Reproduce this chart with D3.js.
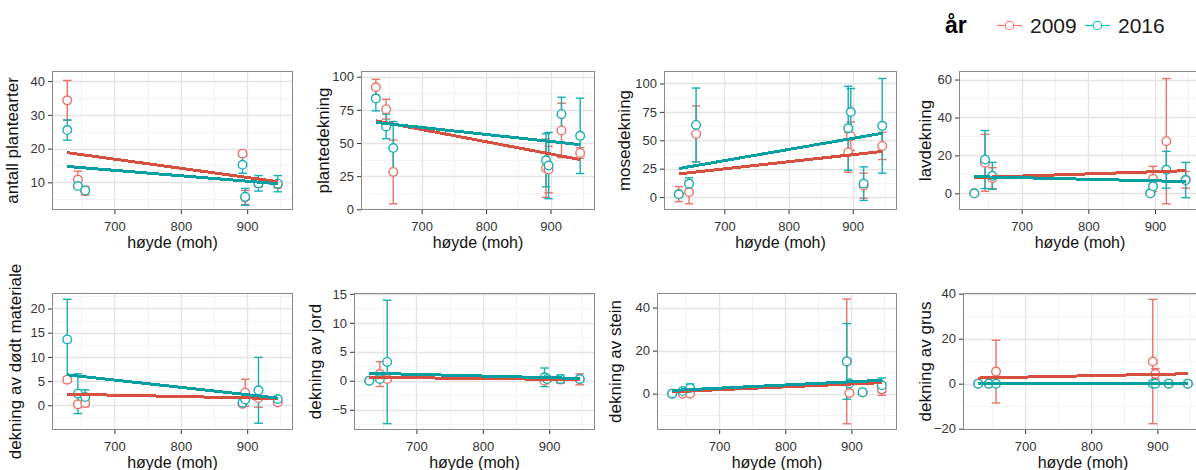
<!DOCTYPE html>
<html>
<head>
<meta charset="utf-8">
<script src="https://cdn.jsdelivr.net/npm/d3@7"></script>
<style>
  html, body { margin: 0; padding: 0; background: #ffffff; }
  svg { display: block; font-family: "Liberation Sans", Arial, sans-serif; }
</style>
</head>
<body>
<script>
// Høyde over havet (moh) for de sju lokalitetene
const hoyde = [629, 645, 656, 893, 897, 917, 946];

// Responsvariabler, én per panel
const yTitler = [
  "antall plantearter", "plantedekning", "mosedekning", "lavdekning",
  "dekning av dødt materiale", "dekning av jord", "dekning av stein", "dekning av grus"
];

// Gjennomsnitt per lokalitet, 2009
const snitt2009 = [
  [34.3, 10.8, 7.5, 18.5, 5.5, 9.7, 9.4],
  [92, 75.5, 28.2, 31, 30, 59.5, 42.5],
  [2.6, 4.4, 55.6, 39.3, 53.6, 10, 45],
  [0, 16.1, 8, 0, 7.6, 27.5, 7.1],
  [5.3, 0.2, 0.5, 0.3, 2.6, 1.5, 0.6],
  [0, 1.15, 0.3, 0, 0.3, 0.2, 0.25],
  [0, 0, 0, 15, 0.3, 0.5, 2],
  [0, 0, 5.35, 9.85, 4.4, 0, 0]
];
// Standardavvik per lokalitet, 2009
const sd2009 = [
  [5.9, 2.5, 1.3, 0.7, 2.1, 1, 1],
  [6, 7.5, 24, 22, 17.5, 20.5, 4],
  [6.6, 10.3, 24.7, 17.5, 12.5, 11, 12],
  [0, 15, 5.5, 0, 6.6, 33, 4.4],
  [0.6, 0.3, 0.8, 0.4, 2.8, 1.9, 0.3],
  [0, 2.15, 0.3, 0, 0.3, 0.2, 0.95],
  [0, 0.5, 0.5, 29, 0, 0.5, 2.8],
  [0, 0, 13.95, 27.65, 2.3, 0, 0]
];
// Gjennomsnitt per lokalitet, 2016
const snitt2016 = [
  [25.5, 8.9, 7.6, 15.2, 5.7, 9.7, 9.6],
  [83.5, 62.5, 46.2, 37, 33, 71.75, 55.4],
  [2.4, 11.8, 63.5, 60.6, 74.9, 11.8, 62.7],
  [0, 17.8, 9.2, 0, 3.7, 12.4, 7],
  [13.6, 2.4, 1.7, 0.55, 1.2, 3.1, 1.3],
  [0, 0.3, 3.25, 0.6, 0.3, 0.3, 0.3],
  [0, 1.2, 2.6, 15, 4.8, 0.7, 3.9],
  [0, 0, 0, 0, 0, 0, 0]
];
// Standardavvik per lokalitet, 2016
const sd2016 = [
  [3, 0.5, 0.5, 2.5, 2.5, 2.3, 2.4],
  [9.25, 9.25, 20, 20, 25, 12.75, 28.4],
  [1, 5.2, 32.5, 37, 20.7, 14.8, 41.7],
  [0, 15.3, 7.1, 0, 1, 9.7, 9.3],
  [8.3, 4.1, 1.5, 0.5, 0.5, 6.8, 0.3],
  [0, 0.3, 10.65, 1.6, 0.3, 0.7, 0.3],
  [0, 0.5, 1.9, 17.6, 0.5, 0.5, 3.4],
  [0, 0, 0, 0, 0, 0, 0]
];
// Lineær trend: tilpasset verdi ved laveste og høyeste lokalitet
const trend2009 = [[18.8, 10.2], [66.75, 37.5], [20.4, 40.2], [8.3, 11.9], [2.3, 1.4], [0.6, 0.2], [0.9, 5.1], [2.5, 4.4]];
const trend2016 = [[14.7, 9.6], [65.5, 48.75], [25.1, 56.2], [8.8, 6.2], [6.3, 1.5], [1.3, 0.4], [1.5, 6.2], [0, 0]];

// Akseinndeling
const xBrudd = [700, 800, 900];
const yBrudd = [
  [10, 20, 30, 40], [0, 25, 50, 75, 100], [0, 25, 50, 75, 100], [0, 20, 40, 60],
  [0, 5, 10, 15, 20], [-5, 0, 5, 10, 15], [0, 20, 40], [-20, 0, 20, 40]
];
const xOmrade = [606, 969];
const yOmrade = [
  [1.8, 43], [-0.5, 104.3], [-11.4, 111], [-8.8, 64.5],
  [-5.1, 23.2], [-8.5, 15.15], [-16.9, 46.8], [-20.6, 40.3]
];

const aar = ["2009", "2016"];

// Farger
const punktFarge = { "2009": "#E8736A", "2016": "#17AFB2" };
const linjeFarge = { "2009": "#D5503F", "2016": "#06A0A3" };
const legendeFarge = { "2009": "#F8766D", "2016": "#00BFC4" };

// Plassering av panelene (venstre, høyre, topp, bunn, x for y-tittel)
const paneler = [
  { l: 52, r: 293, t: 71, b: 210, ty: 12 },
  { l: 361, r: 595, t: 71, b: 210, ty: 323 },
  { l: 664, r: 897, t: 71, b: 210, ty: 624 },
  { l: 959, r: 1201, t: 71, b: 210, ty: 925 },
  { l: 52, r: 293, t: 293, b: 430, ty: 15 },
  { l: 354, r: 595, t: 293, b: 430, ty: 315 },
  { l: 657, r: 897, t: 293, b: 430, ty: 615 },
  { l: 963, r: 1203, t: 293, b: 430, ty: 925 }
];

const W = 1196, H = 470;
const svg = d3.select("body").append("svg").attr("width", W).attr("height", H);

// Mindre rutenett: midt mellom hovedbruddene, ett steg utenfor i hver ende
function mindreBrudd(brudd, omrade) {
  const steg = brudd[1] - brudd[0];
  const ut = [];
  for (let v = brudd[0] - steg / 2; v <= brudd[brudd.length - 1] + steg / 2 + 1e-9; v += steg) ut.push(v);
  return ut.filter(v => v >= Math.min(...omrade) && v <= Math.max(...omrade));
}

const xMin = d3.min(hoyde), xMax = d3.max(hoyde);
const capHalv = 6.5; // halv bredde på feilstolpene, i moh

paneler.forEach((p, i) => {
  const x = d3.scaleLinear().domain(xOmrade).range([p.l, p.r]);
  const y = d3.scaleLinear().domain(yOmrade[i]).range([p.b, p.t]);
  const g = svg.append("g");

  const clipId = "clip" + i;
  svg.append("clipPath").attr("id", clipId)
    .append("rect").attr("x", p.l).attr("y", p.t).attr("width", p.r - p.l).attr("height", p.b - p.t);
  const plot = g.append("g").attr("clip-path", `url(#${clipId})`);

  // bakgrunn
  plot.append("rect").attr("x", p.l).attr("y", p.t).attr("width", p.r - p.l).attr("height", p.b - p.t)
    .attr("fill", "#ffffff");

  // rutenett
  const xMinor = mindreBrudd(xBrudd, xOmrade);
  const yMinor = mindreBrudd(yBrudd[i], yOmrade[i]);
  plot.selectAll(".gxm").data(xMinor).join("line")
    .attr("x1", d => Math.round(x(d)) + 0.5).attr("x2", d => Math.round(x(d)) + 0.5)
    .attr("y1", p.t).attr("y2", p.b).attr("stroke", "#F3F3F3").attr("stroke-width", 1);
  plot.selectAll(".gym").data(yMinor).join("line")
    .attr("y1", d => Math.round(y(d)) + 0.5).attr("y2", d => Math.round(y(d)) + 0.5)
    .attr("x1", p.l).attr("x2", p.r).attr("stroke", "#F3F3F3").attr("stroke-width", 1);
  plot.selectAll(".gx").data(xBrudd).join("line")
    .attr("x1", d => Math.round(x(d)) + 0.5).attr("x2", d => Math.round(x(d)) + 0.5)
    .attr("y1", p.t).attr("y2", p.b).attr("stroke", "#E4E4E4").attr("stroke-width", 1.3);
  plot.selectAll(".gy").data(yBrudd[i]).join("line")
    .attr("y1", d => Math.round(y(d)) + 0.5).attr("y2", d => Math.round(y(d)) + 0.5)
    .attr("x1", p.l).attr("x2", p.r).attr("stroke", "#E4E4E4").attr("stroke-width", 1.3);

  const serier = {
    "2009": hoyde.map((h, k) => ({ h, m: snitt2009[i][k], s: sd2009[i][k] })),
    "2016": hoyde.map((h, k) => ({ h, m: snitt2016[i][k], s: sd2016[i][k] }))
  };

  // feilstolper
  aar.forEach(a => {
    const eb = plot.append("g").attr("stroke", punktFarge[a]).attr("stroke-width", 1.4).attr("fill", "none");
    serier[a].forEach(d => {
      eb.append("line").attr("x1", x(d.h)).attr("x2", x(d.h)).attr("y1", y(d.m - d.s)).attr("y2", y(d.m + d.s));
      eb.append("line").attr("x1", x(d.h - capHalv)).attr("x2", x(d.h + capHalv)).attr("y1", y(d.m + d.s)).attr("y2", y(d.m + d.s));
      eb.append("line").attr("x1", x(d.h - capHalv)).attr("x2", x(d.h + capHalv)).attr("y1", y(d.m - d.s)).attr("y2", y(d.m - d.s));
    });
  });

  // punkter
  aar.forEach(a => {
    plot.append("g").selectAll("circle").data(serier[a]).join("circle")
      .attr("cx", d => x(d.h)).attr("cy", d => y(d.m)).attr("r", 4.3)
      .attr("fill", "#ffffff").attr("stroke", punktFarge[a]).attr("stroke-width", 1.4);
  });

  // trendlinjer
  const linje = d3.line().x(d => x(d[0])).y(d => y(d[1]));
  [["2009", trend2009[i]], ["2016", trend2016[i]]].forEach(([a, t]) => {
    plot.append("path")
      .datum([[xMin, t[0]], [xMax, t[1]]])
      .attr("d", linje)
      .attr("fill", "none")
      .attr("stroke", linjeFarge[a])
      .attr("stroke-width", 3)
      .attr("shape-rendering", "crispEdges");
  });

  // rammen
  g.append("rect").attr("x", p.l + 0.5).attr("y", p.t + 0.5)
    .attr("width", p.r - p.l - 1).attr("height", p.b - p.t - 1)
    .attr("fill", "none").attr("stroke", "#8A8A8A").attr("stroke-width", 1);

  // akser
  const ax = g.append("g").attr("transform", `translate(0,${p.b})`)
    .call(d3.axisBottom(x).tickValues(xBrudd).tickSize(4).tickPadding(8).tickFormat(d3.format("d")));
  const ay = g.append("g").attr("transform", `translate(${p.l},0)`)
    .call(d3.axisLeft(y).tickValues(yBrudd[i]).tickSize(4).tickPadding(3).tickFormat(d3.format("d")));
  [ax, ay].forEach(a => {
    a.select(".domain").remove();
    a.selectAll(".tick line").attr("stroke", "#333333");
    a.selectAll(".tick text").attr("fill", "#333333").style("font-size", "13px")
      .style("font-family", "'Liberation Sans', Arial, sans-serif");
  });

  // aksetitler
  g.append("text")
    .attr("x", (p.l + p.r) / 2).attr("y", p.b + 38)
    .attr("text-anchor", "middle").attr("fill", "#111111").style("font-size", "16px")
    .text("høyde (moh)");
  g.append("text")
    .attr("transform", `translate(${p.ty},${(p.t + p.b) / 2}) rotate(-90)`)
    .attr("dy", "0.35em")
    .attr("text-anchor", "middle").attr("fill", "#111111").style("font-size", "17px")
    .text(yTitler[i]);
});

// forklaring
const leg = svg.append("g");
leg.append("text").attr("x", 945).attr("y", 33).attr("fill", "#000000")
  .style("font-size", "23px").style("font-weight", "bold").text("år");
const nokler = [{ a: "2009", x0: 997 }, { a: "2016", x0: 1085 }];
nokler.forEach(k => {
  leg.append("line").attr("x1", k.x0).attr("x2", k.x0 + 25).attr("y1", 25.5).attr("y2", 25.5)
    .attr("stroke", legendeFarge[k.a]).attr("stroke-width", 1.2);
  leg.append("circle").attr("cx", k.x0 + 12.5).attr("cy", 25.5).attr("r", 4.2)
    .attr("fill", "#ffffff").attr("stroke", legendeFarge[k.a]).attr("stroke-width", 1.1);
  leg.append("text").attr("x", k.x0 + 33).attr("y", 33).attr("fill", "#1a1a1a")
    .style("font-size", "21px").text(k.a);
});
</script>
</body>
</html>
